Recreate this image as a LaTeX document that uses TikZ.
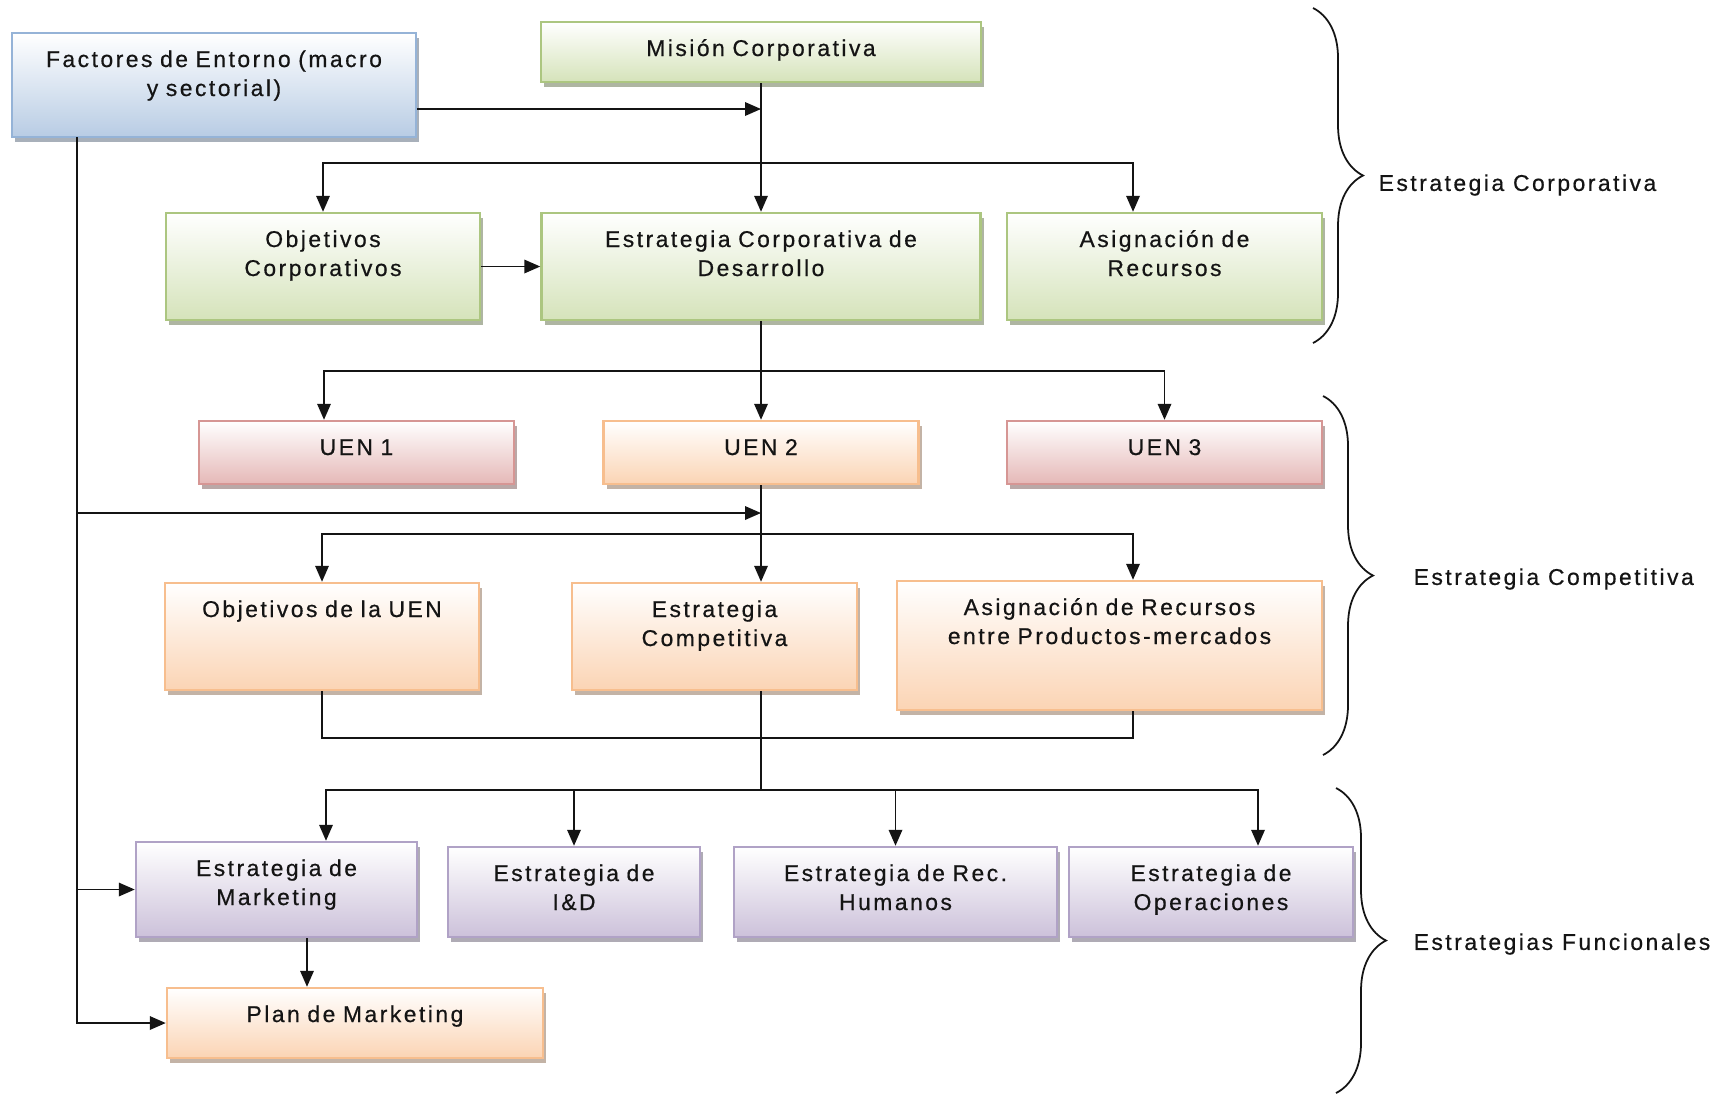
\documentclass[tikz,border=0pt]{standalone}
\usepackage{fontspec}
\setmainfont{Liberation Sans}[LetterSpace=11, FakeBold=0.6]
\usetikzlibrary{arrows.meta, shadows, decorations.pathreplacing}
\definecolor{inkc}{RGB}{20,20,20}
\definecolor{corpb}{RGB}{172,198,128}
\definecolor{corpf}{RGB}{213,227,186}
\definecolor{envb}{RGB}{149,179,215}
\definecolor{envf}{RGB}{184,204,228}
\definecolor{uenb}{RGB}{214,150,148}
\definecolor{uenf}{RGB}{229,184,183}
\definecolor{compb}{RGB}{247,190,142}
\definecolor{compf}{RGB}{251,212,180}
\definecolor{funcb}{RGB}{176,162,198}
\definecolor{funcf}{RGB}{204,193,218}
\tikzset{
  box/.style={
    rectangle, draw, line width=0.7pt, inner xsep=0pt, inner ysep=0pt,
    align=center, text=inkc, font=\fontsize{6.5}{8.25}\selectfont,
    text height=0.34cm, top color=white
  },
  sz/.style 2 args={text width=#1cm, minimum height=#2cm, text depth=#2cm-0.34cm},
  shd/.style={drop shadow={shadow xshift=0.03cm, shadow yshift=-0.05cm,
                           fill=#1!55!black, opacity=0.5}},
  env/.style={box, draw=envb, bottom color=envf, shd=envb},
  corp/.style={box, draw=corpb, bottom color=corpf, shd=corpb},
  uen/.style={box, draw=uenb, bottom color=uenf, shd=uenb},
  comp/.style={box, draw=compb, bottom color=compf, shd=compb},
  func/.style={box, draw=funcb, bottom color=funcf, shd=funcb},
  arr/.style={-{Triangle[length=1.6mm, width=1.35mm]}, line width=0.5pt, draw=inkc},
  ln/.style={line width=0.5pt, draw=inkc},
  brc/.style={decorate, decoration={brace, amplitude=0.5cm}, line width=0.5pt, draw=inkc},
  lvl/.style={anchor=west, inner sep=0pt, text=inkc, font=\fontsize{6.5}{8.25}\selectfont},
}

\begin{document}
\begin{tikzpicture}

  \fill[white] (0,0) rectangle (17.36,-10.96);
  \useasboundingbox (0,0) rectangle (17.36,-10.96);

  \node[env, sz={4.04}{1.04}] (fac) at (2.14,-0.85) {Factores de Entorno (macro\\y sectorial)};
  \node[corp, sz={4.40}{0.60}] (mis) at (7.61,-0.52) {Misión Corporativa};
  \node[corp, sz={3.14}{1.07}] (objc) at (3.23,-2.665) {Objetivos\\Corporativos};
  \node[corp, sz={4.39}{1.07}] (estcd) at (7.61,-2.665) {Estrategia Corporativa de\\Desarrollo};
  \node[corp, sz={3.15}{1.07}] (asig) at (11.645,-2.665) {Asignación de\\Recursos};

  \node[uen, sz={3.15}{0.63}] (uen1) at (3.565,-4.525) {UEN 1};
  \node[comp, sz={3.15}{0.63}] (uen2) at (7.61,-4.525) {UEN 2};
  \node[uen, sz={3.15}{0.63}] (uen3) at (11.645,-4.525) {UEN 3};

  \node[comp, sz={3.14}{1.07}] (obju) at (3.22,-6.365) {Objetivos de la UEN};
  \node[comp, sz={2.85}{1.07}] (estc) at (7.145,-6.365) {Estrategia\\Competitiva};
  \node[comp, sz={4.25}{1.29}] (asigu) at (11.095,-6.455) {Asignación de Recursos\\entre Productos-mercados};

  \node[func, sz={2.81}{0.95}] (mkt) at (2.765,-8.895) {Estrategia de\\Marketing};
  \node[func, sz={2.52}{0.90}] (id) at (5.74,-8.92) {Estrategia de\\I\&D};
  \node[func, sz={3.23}{0.90}] (rh) at (8.955,-8.92) {Estrategia de Rec.\\Humanos};
  \node[func, sz={2.84}{0.90}] (ops) at (12.11,-8.92) {Estrategia de\\Operaciones};
  \node[comp, sz={3.76}{0.70}] (plan) at (3.55,-10.23) {Plan de Marketing};

  % junctions on the central trunk
  \coordinate (j1) at (7.61,-1.09);
  \coordinate (j2) at (7.61,-1.63);
  \coordinate (j3) at (7.61,-3.71);
  \coordinate (j4) at (7.61,-5.13);
  \coordinate (j5) at (7.61,-5.34);
  \coordinate (j6) at (7.61,-7.38);
  \coordinate (j7) at (7.61,-7.90);
  \coordinate (ft) at (0.77,-1.37);

  \draw[arr] (fac.east |- j1) -- (j1);
  \draw[arr] (mis) -- (estcd);
  \draw[arr] (j2) -| (objc.north);
  \draw[arr] (j2) -| ([xshift=-0.315cm]asig.north);
  \draw[arr] (objc) -- (estcd);

  \draw[ln] (estcd) -- (j3);
  \draw[arr] (j3) -- (uen2);
  \draw[arr] (j3) -| ([xshift=-0.325cm]uen1.north);
  \draw[arr] (j3) -| (uen3.north);

  \draw[arr] (uen2) -- (uen2.south |- estc.north);
  \draw[arr] (ft |- j4) -- (j4);
  \draw[arr] (j5) -| (obju.north);
  \draw[arr] (j5) -| ([xshift=0.235cm]asigu.north);
  \draw[ln] (obju.south) |- (j6) -| ([xshift=0.235cm]asigu.south);

  \draw[ln] (uen2.south |- estc.south) -- (j7);
  \draw[arr] (j7) -| ([xshift=0.495cm]mkt.north);
  \draw[arr] (j7) -| (id.north);
  \draw[arr] (j7) -| (rh.north);
  \draw[arr] (j7) -| ([xshift=0.47cm]ops.north);
  \draw[arr] ([xshift=0.305cm]mkt.south) -- ([xshift=0.305cm]mkt.south |- plan.north);

  \draw[arr] (ft) |- (plan.west);
  \draw[arr] (ft |- mkt.west) -- (mkt.west);

  \coordinate (b1t) at (13.13,-0.08);
  \coordinate (b1b) at (13.13,-3.43);
  \coordinate (b2t) at (13.23,-3.96);
  \coordinate (b2b) at (13.23,-7.55);
  \coordinate (b3t) at (13.36,-7.88);
  \coordinate (b3b) at (13.36,-10.93);
  \draw[brc] (b1t) -- (b1b);
  \draw[brc] (b2t) -- (b2b);
  \draw[brc] (b3t) -- (b3b);

  \node[lvl] (lcorp) at (13.78,-1.85) {Estrategia Corporativa};
  \node[lvl] (lcomp) at (14.13,-5.79) {Estrategia Competitiva};
  \node[lvl] (lfunc) at (14.13,-9.44) {Estrategias Funcionales};

\end{tikzpicture}
\end{document}
